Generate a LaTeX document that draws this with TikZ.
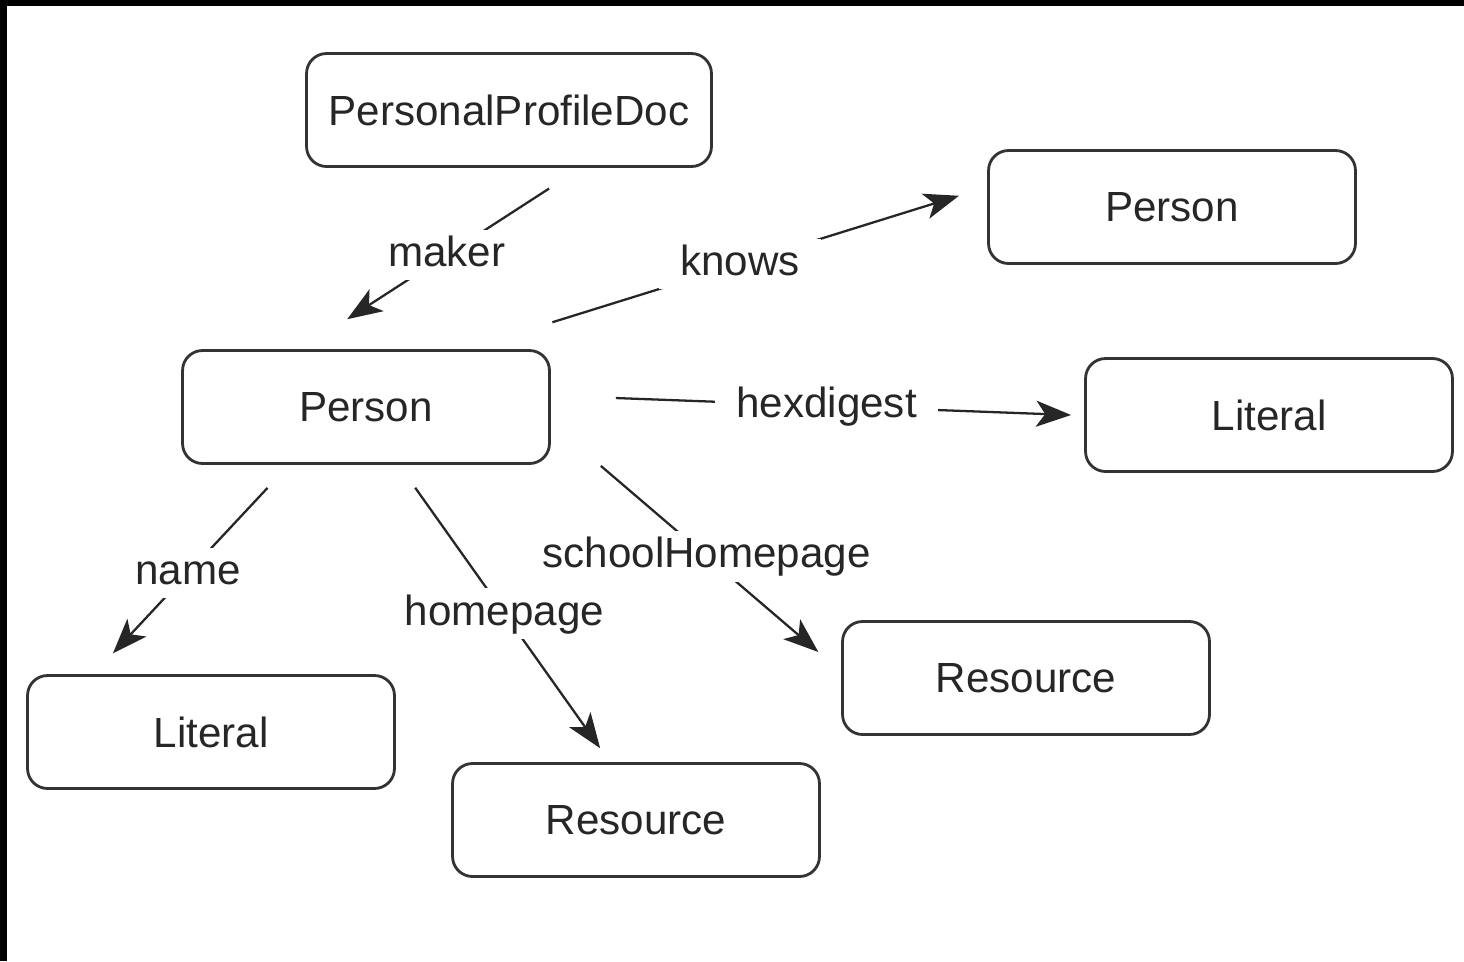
\documentclass[tikz,border=0pt]{standalone}
\usepackage{fontspec}
\setmainfont{Liberation Sans}
\usetikzlibrary{arrows.meta,calc}

\begin{document}
\begin{tikzpicture}[x=0.02cm,y=-0.02cm,
  box/.style={draw=black!80,line width=1.6pt,rounded corners=0.4cm,minimum width=7.34cm,minimum height=2.26cm,text=black!85,font=\fontsize{24}{28}\selectfont},
  link/.style={draw=black!85,line width=1.3pt,-{Stealth[length=0.7cm,width=0.52cm,inset=0.18cm]}},
  lbl/.style={fill=white,text=black!85,font=\fontsize{24}{28}\selectfont,inner xsep=12pt,inner ysep=3pt,text height=18pt,text depth=4.8pt}]
\useasboundingbox (0,0) rectangle (1464,961);
\fill[black] (0,0) rectangle (1464,6);
\fill[black] (0,0) rectangle (7,961);

\node[box,minimum width=8.1cm] (doc) at (509,110) {PersonalProfileDoc};
\node[box] (me) at (366,407) {Person};
\node[box] (friend) at (1172,207) {Person};
\node[box] (lit1) at (1269,415) {Literal};
\node[box] (lit2) at (211,732) {Literal};
\node[box] (res1) at (636,820) {Resource};
\node[box] (res2) at (1026,678) {Resource};

\path[link,shorten <=0.76cm,shorten >=1.1cm] ($(doc.south)+(72,0)$) -- node[lbl,pos=0.48] {maker} ($(me.north)+(-65,0)$);
\path[link,shorten <=1.81cm,shorten >=0.59cm] ($(me.north)+(100,0)$) -- node[lbl,pos=0.526] {knows} ($(friend.west)+(0,-20)$);
\path[link,shorten <=1.3cm,shorten >=0.26cm] ($(me.east)+(0,-11.4)$) -- node[lbl,pos=0.517] {hexdigest} ($(lit1.west)+(0,0.5)$);
\path[link,shorten <=0.63cm,shorten >=0.57cm] ($(me.south)+(-77,0)$) -- node[lbl,pos=0.517] {name} ($(lit2.north)+(-117.5,0)$);
\path[link,shorten <=0.56cm,shorten >=0.34cm] ($(me.south)+(33,0)$) -- node[lbl,pos=0.5] {homepage} ($(res1.north)+(-26,0)$);
\path[link,shorten >=0.6cm] ($(me.south east)+(50,1)$) -- node[lbl,pos=0.44] {schoolHomepage} ($(res2.west)+(0,-6.5)$);
\end{tikzpicture}
\end{document}
